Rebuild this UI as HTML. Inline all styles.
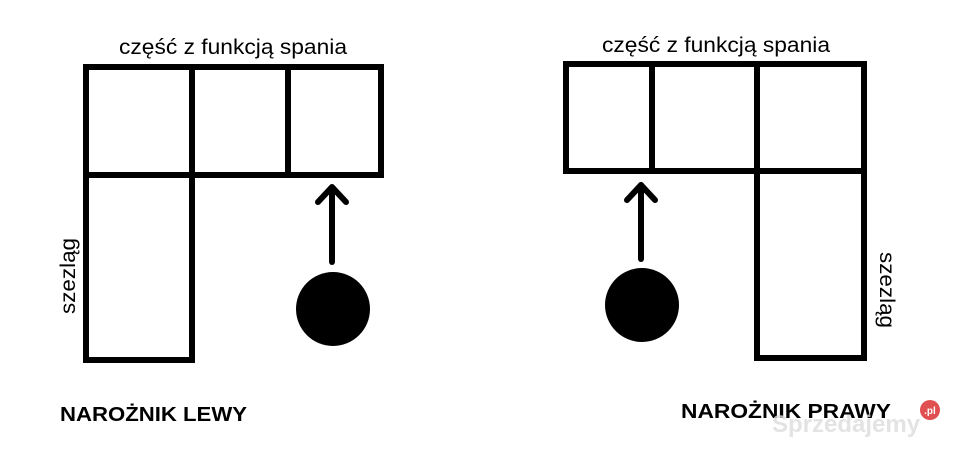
<!DOCTYPE html>
<html><head><style>html,body{margin:0;padding:0;background:#fff}</style></head>
<body>
<svg width="960" height="455" viewBox="0 0 960 455" xmlns="http://www.w3.org/2000/svg" font-family="Liberation Sans, sans-serif">
<rect width="960" height="455" fill="#fff"/>
<g stroke="#000" stroke-width="6" fill="none" stroke-linecap="square">
<rect x="86" y="67" width="295" height="108"/>
<line x1="192" y1="67" x2="192" y2="175"/>
<line x1="288" y1="67" x2="288" y2="175"/>
<rect x="86" y="175" width="106" height="185"/>
<line x1="332" y1="262" x2="332" y2="188" stroke-linecap="round"/>
<polyline points="318,202 332,187 346,202" stroke-linecap="round" stroke-linejoin="round"/>
<rect x="566" y="64" width="298" height="107"/>
<line x1="652" y1="64" x2="652" y2="171"/>
<line x1="757" y1="64" x2="757" y2="171"/>
<rect x="757" y="171" width="107" height="187"/>
<line x1="641" y1="259" x2="641" y2="185" stroke-linecap="round"/>
<polyline points="627,200 641,185 655,200" stroke-linecap="round" stroke-linejoin="round"/>
</g>
<circle cx="333" cy="309" r="37" fill="#000"/>
<circle cx="642" cy="305" r="37" fill="#000"/>
<g font-size="21" fill="#000">
<text x="233" y="54" text-anchor="middle" textLength="228" lengthAdjust="spacingAndGlyphs">część z funkcją spania</text>
<text x="716" y="52" text-anchor="middle" textLength="228" lengthAdjust="spacingAndGlyphs">część z funkcją spania</text>
<text transform="translate(75,276) rotate(-90)" text-anchor="middle" textLength="76" lengthAdjust="spacingAndGlyphs">szezląg</text>
<text transform="translate(880,290) rotate(90)" text-anchor="middle" textLength="76" lengthAdjust="spacingAndGlyphs">szezląg</text>
</g>
<g font-size="20" font-weight="bold" fill="#000">
<text x="60" y="421" textLength="187" lengthAdjust="spacingAndGlyphs">NAROŻNIK LEWY</text>
<text x="681" y="418" textLength="210" lengthAdjust="spacingAndGlyphs">NAROŻNIK PRAWY</text>
</g>
<text x="772" y="432" font-size="24" font-weight="bold" fill="#ddd" opacity="0.8">Sprzedajemy</text>
<circle cx="930" cy="410" r="10" fill="#e05050"/>
<text x="930" y="414" font-size="10" font-weight="bold" fill="#fff" text-anchor="middle">.pl</text>
</svg>
</body></html>
